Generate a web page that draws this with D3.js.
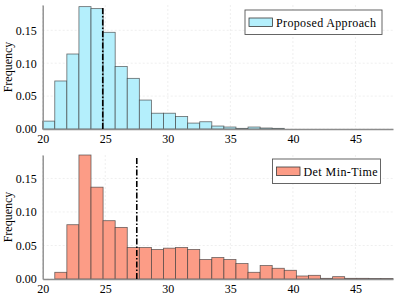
<!DOCTYPE html>
<html>
<head>
<meta charset="utf-8">
<script src="https://cdn.jsdelivr.net/npm/d3@7"></script>
<style>
  body { margin: 0; background: #fff; }
  text { font-family: "Liberation Serif", "DejaVu Serif", serif; }
</style>
</head>
<body>
<div id="app"></div>
<script>
// bins share the same start and width in both panels
const binStart = 20;
const binWidth = 28 / 29;

const proposedDensity = [0.012, 0.073, 0.114, 0.186, 0.183, 0.147, 0.095, 0.077, 0.044, 0.024,
  0.024, 0.019, 0.009, 0.011, 0.0045, 0.003, 0.001, 0.003, 0.0015, 0.001];
const detDensity = [0, 0.010, 0.081, 0.185, 0.137, 0.087, 0.077, 0.047, 0.047, 0.044,
  0.046, 0.047, 0.044, 0.029, 0.032, 0.029, 0.023, 0.010, 0.020, 0.016,
  0.013, 0.0045, 0.0055, 0.001, 0.0035, 0.001, 0.001, 0.0006, 0.0006];

const proposedMean = 24.8;
const detMean = 27.52;

const xTicks = [20, 25, 30, 35, 40, 45];
const yTicks = [0, 0.05, 0.10, 0.15];
const xLimits = [20, 48];

const w = 399;
const h = 299;

const svg = d3.select("#app").append("svg").attr("width", w).attr("height", h);

const panels = [
  { data: proposedDensity, mean: proposedMean, label: "Proposed Approach", labelW: 100,
    fill: "#b4effc", top: 5, bottom: 129, ymax: 0.1885, legendX: 245, legendY: 10, legendW: 137 },
  { data: detDensity, mean: detMean, label: "Det Min-Time", labelW: 74,
    fill: "#fc9c86", top: 155, bottom: 279, ymax: 0.185, legendX: 272.5, legendY: 159, legendW: 108 }
];

const xScale = d3.scaleLinear().domain(xLimits).range([42.7, 393]);

panels.forEach((p) => {
  const yScale = d3.scaleLinear().domain([0, p.ymax]).range([p.bottom, p.top]);
  const g = svg.append("g");

  // grid
  g.selectAll(".gx")
    .data(xTicks)
    .join("line")
    .attr("x1", (d) => xScale(d))
    .attr("x2", (d) => xScale(d))
    .attr("y1", p.top)
    .attr("y2", p.bottom)
    .attr("stroke", "#e4e4e4")
    .attr("stroke-width", 0.6)
    .attr("stroke-dasharray", "2,2");
  g.selectAll(".gy")
    .data(yTicks)
    .join("line")
    .attr("x1", xScale(xLimits[0]))
    .attr("x2", xScale(xLimits[1]))
    .attr("y1", (d) => yScale(d))
    .attr("y2", (d) => yScale(d))
    .attr("stroke", "#e4e4e4")
    .attr("stroke-width", 0.6)
    .attr("stroke-dasharray", "2,2");

  // bars
  g.selectAll("rect.bar")
    .data(p.data)
    .join("rect")
    .attr("class", "bar")
    .attr("x", (d, i) => xScale(binStart + i * binWidth))
    .attr("width", xScale(binStart + binWidth) - xScale(binStart))
    .attr("y", (d) => yScale(d))
    .attr("height", (d) => p.bottom - yScale(d))
    .attr("fill", p.fill)
    .attr("stroke", "#3a3a3a")
    .attr("stroke-opacity", 0.75)
    .attr("stroke-width", 0.8);

  // axes
  const xAxis = g.append("g")
    .attr("transform", `translate(0,${p.bottom})`)
    .call(d3.axisBottom(xScale).tickValues(xTicks).tickSize(0).tickPadding(5).tickFormat(d3.format("d")));
  xAxis.select(".domain").attr("stroke", "#8c8c8c").attr("stroke-width", 1.4);
  xAxis.selectAll("text").attr("font-size", 12).attr("fill", "#000")
    .style("font-family", "'Liberation Serif', serif");

  const yAxis = g.append("g")
    .attr("transform", `translate(${xScale(xLimits[0])},0)`)
    .call(d3.axisLeft(yScale).tickValues(yTicks).tickSize(0).tickPadding(6).tickFormat(d3.format(".2f")));
  yAxis.select(".domain").attr("stroke", "#8c8c8c").attr("stroke-width", 1.4);
  yAxis.selectAll("text").attr("font-size", 12).attr("fill", "#000")
    .style("font-family", "'Liberation Serif', serif");

  // y label
  g.append("text")
    .attr("transform", `translate(12,${(p.top + p.bottom) / 2}) rotate(-90)`)
    .attr("text-anchor", "middle")
    .attr("font-size", 12)
    .text("Frequency");

  // mean line
  g.append("line")
    .attr("x1", xScale(p.mean))
    .attr("x2", xScale(p.mean))
    .attr("y1", p.top + 3)
    .attr("y2", p.bottom)
    .attr("stroke", "#000")
    .attr("stroke-width", 1.6)
    .attr("stroke-dasharray", "6,2,1.5,2");

  // legend
  const lg = g.append("g").attr("transform", `translate(${p.legendX},${p.legendY})`);
  lg.append("rect")
    .attr("width", p.legendW)
    .attr("height", 24.5)
    .attr("fill", "#fff")
    .attr("stroke", "#555")
    .attr("stroke-width", 0.9);
  lg.append("rect")
    .attr("x", 4)
    .attr("y", 8)
    .attr("width", 23.5)
    .attr("height", 8.5)
    .attr("fill", p.fill)
    .attr("stroke", "#3a3a3a")
    .attr("stroke-width", 0.8);
  lg.append("text")
    .attr("x", 31)
    .attr("y", 16.5)
    .attr("font-size", 12)
    .attr("textLength", p.labelW)
    .attr("lengthAdjust", "spacing")
    .text(p.label);
});
</script>
</body>
</html>
